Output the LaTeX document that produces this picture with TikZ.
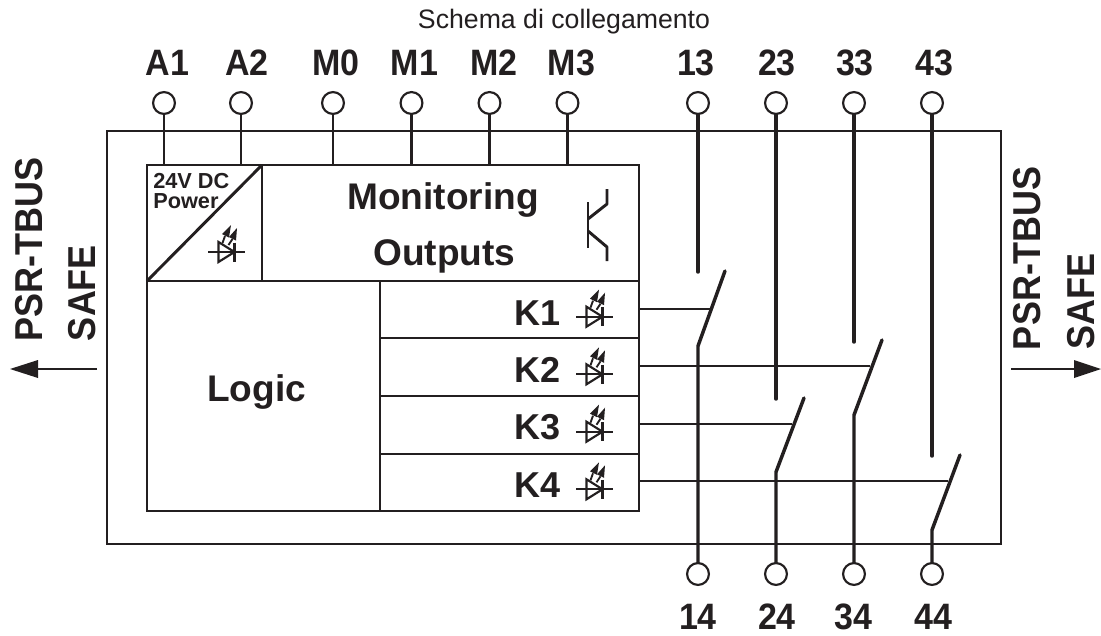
\documentclass[tikz,border=0pt]{standalone}
\usepackage{graphicx}
\usepackage{fontspec}
\setmainfont{Liberation Sans}
\definecolor{ink}{HTML}{231F20}
\newcommand{\tallt}[1]{\scalebox{1}[1.08]{#1}}
\tikzset{
  frame/.style={line width=2.2pt,draw=ink},
  thin wire/.style={line width=2.2pt,draw=ink},
  contact/.style={line width=2.6pt,draw=ink,line cap=round,line join=round},
  term/.style={circle,draw=ink,line width=1.6pt,fill=white,minimum size=16.4pt,inner sep=0pt},
  lab/.style={font=\bfseries\fontsize{25.5}{25.5}\selectfont,text=ink,inner sep=0pt,anchor=base},
  big/.style={font=\bfseries\fontsize{27.8}{28}\selectfont,text=ink,inner sep=0pt,anchor=base west},
  keyl/.style={font=\bfseries\fontsize{27}{27}\selectfont,text=ink,inner sep=0pt,anchor=base west},
  vlab/.style={font=\bfseries\fontsize{27}{27}\selectfont,text=ink,inner sep=0pt,rotate=90},
  powl/.style={font=\bfseries\fontsize{16.3}{16}\selectfont,text=ink,inner sep=0pt,anchor=base west},
  led/.pic={
    \draw[line width=1.5pt,ink] (-18.5,0)--(18.5,0);
    \draw[line width=1.6pt,ink,line join=miter] (-8,-10)--(-8,10)--(8,0)--cycle;
    \draw[line width=1.6pt,ink] (8,-9.5)--(8,9.5);
    \draw[line width=1.4pt,ink] (-4,-9)--(-1.5,-16);
    \fill[ink] (4.5,-27)--(2.5,-14.5)--(-4.5,-18)--cycle;
    \draw[line width=1.4pt,ink] (2,-7)--(6,-13);
    \fill[ink] (10.5,-24)--(9.5,-11.5)--(2.5,-15)--cycle;
  }
}
\begin{document}
\begin{tikzpicture}[x=0.75pt,y=-0.75pt]
\useasboundingbox (0,0) rectangle (1101,636);
\fill[white] (0,0) rectangle (1101,636);
\coordinate (ol) at (107,131); \coordinate (or) at (1001,544);
\coordinate (il) at (147,165); \coordinate (ir) at (639,511);
\draw[frame] (ol) rectangle (or);
\draw[frame,fill=white] (il) rectangle (ir);
\coordinate (dl) at (147,281); \coordinate (dr) at (639,281);
\coordinate (pt) at (262,165); \coordinate (pb) at (262,281);
\coordinate (lt) at (380,281); \coordinate (lb) at (380,511);
\draw[frame] (dl)--(dr);
\draw[frame] (pt)--(pb);
\draw[frame] (lt)--(lb);
\draw[frame] (dl)--(pt);
\foreach \yy in {338,396,454} \draw[frame] (380,\yy)--(639,\yy);
% top terminals
\foreach \n/\xx in {A1/164,A2/241,M0/333,M1/411.5,M2/489.5,M3/567.5,c13/698,c23/776,c33/854,c43/932}
  \coordinate (t\n) at (\xx,103);
\foreach \n in {A1,A2,M0,M1,M2,M3} \draw[thin wire] (t\n)--(t\n|-il);
% contacts
\coordinate (b13) at (698,346); \coordinate (e13) at (698,272); \coordinate (s13) at (725,271);
\coordinate (b23) at (776,472); \coordinate (e23) at (776,399); \coordinate (s23) at (804,398);
\coordinate (b33) at (854,415); \coordinate (e33) at (854,342); \coordinate (s33) at (882,340);
\coordinate (b43) at (932,530); \coordinate (e43) at (932,456); \coordinate (s43) at (960,455);
\foreach \n/\m/\xx in {13/14/698,23/24/776,33/34/854,43/44/932}{
  \coordinate (u\m) at (\xx,574);
  \draw[contact] (tc\n)--(e\n);
  \draw[contact] (u\m)--(b\n|-u\m)--(b\n)--(s\n);
}
% K wires
\foreach \yy/\xx in {309/713,366/870,424/792,481/948}
  \draw[thin wire] (639,\yy)--(\xx,\yy);
% terminal circles
\foreach \n in {A1,A2,M0,M1,M2,M3,c13,c23,c33,c43} \node[term] at (t\n) {};
\foreach \n in {14,24,34,44} \node[term] at (u\n) {};
% terminal labels
\foreach \n/\xx in {A1/167.5,A2/247,M0/336,M1/414.5,M2/494,M3/571.5,13/696,23/777,33/855,43/934}
  \node[lab] at (\xx,75) {\tallt{\n}};
\foreach \n/\xx in {14/698,24/777,34/853,44/933}
  \node[lab] at (\xx,629) {\tallt{\n}};
\node[font=\fontsize{20}{20}\selectfont,text=ink,inner sep=0pt,anchor=base] (title) at (564,28) {Schema di collegamento};
% block labels
\node[big] (mon) at (347,209) {Monitoring};
\node[big] (out) at (373,265) {Outputs};
\node[big] (logic) at (207,401) {Logic};
\node[keyl] (k1) at (514,325) {K1};
\node[keyl] (k2) at (514,382) {K2};
\node[keyl] (k3) at (514,439) {K3};
\node[keyl] (k4) at (514,497) {K4};
\node[powl] (pow1) at (153,188) {24V DC};
\node[powl] (pow2) at (153,208.5) {Power};
% LEDs
\pic at (226.5,252) {led};
\pic at (594.5,316.7) {led};
\pic at (594.5,374.3) {led};
\pic at (594.5,431.7) {led};
\pic at (594.5,489.3) {led};
% transistor
\draw[line width=2.2pt,ink] (588,202)--(588,248);
\draw[line width=2.2pt,ink,line join=round] (588,219)--(607,204)--(607,189);
\draw[line width=2.2pt,ink,line join=round] (588,231)--(607,247)--(607,261);
% side labels
\node[vlab] (lp) at (29,249.5) {\tallt{PSR-TBUS}};
\node[vlab] (ls) at (81.7,293) {\tallt{SAFE}};
\node[vlab] (rp) at (1027.5,258) {\tallt{PSR-TBUS}};
\node[vlab] (rs) at (1081,301.5) {\tallt{SAFE}};
% arrows
\coordinate (la) at (97,369); \coordinate (lh) at (38,369); \coordinate (lt2) at (10,369);
\coordinate (ra) at (1011,369); \coordinate (rh) at (1074,369); \coordinate (rt2) at (1101,369);
\draw[line width=1.6pt,ink] (la)--(lh);
\fill[ink] (lt2)--(38,360)--(38,378)--cycle;
\draw[line width=1.6pt,ink] (ra)--(rh);
\fill[ink] (rt2)--(1074,360)--(1074,378)--cycle;
\end{tikzpicture}
\end{document}
